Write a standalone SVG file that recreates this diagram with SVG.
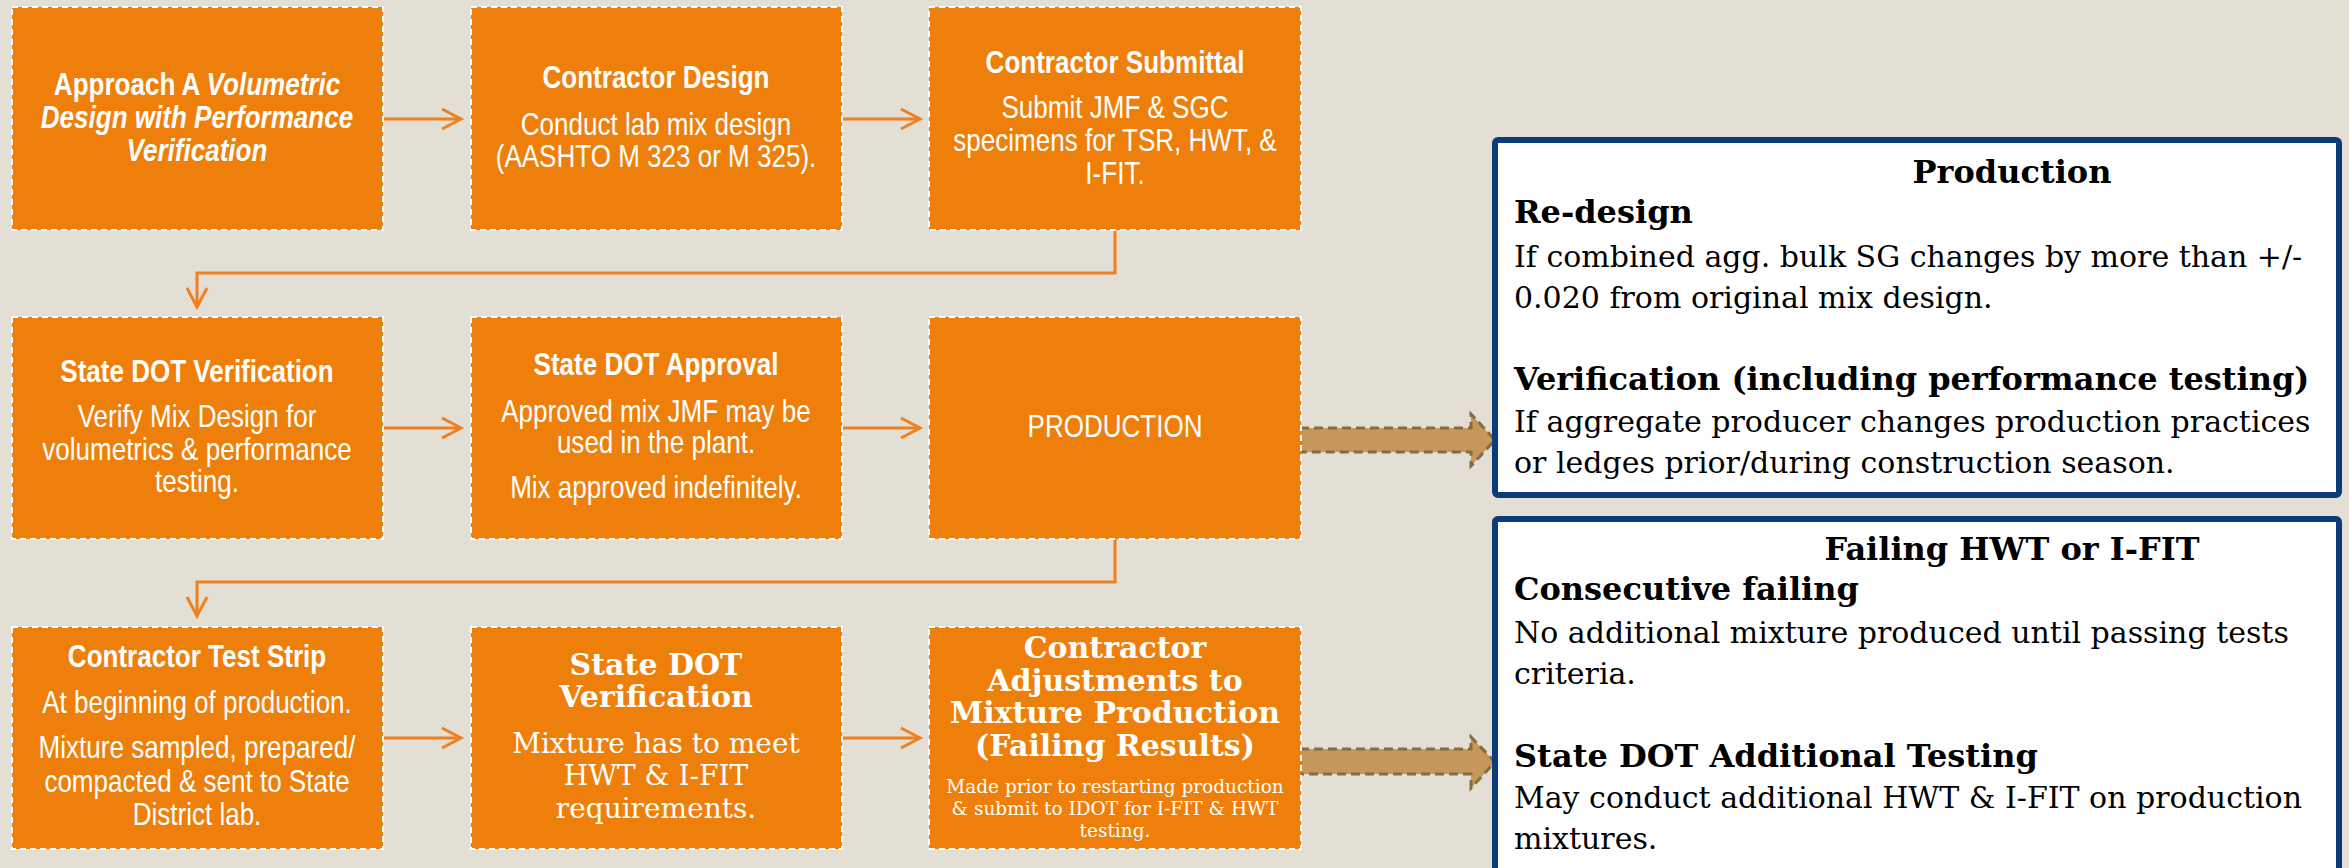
<svg xmlns="http://www.w3.org/2000/svg" width="2349" height="868" viewBox="0 0 2349 868">
<defs>
<style>
.box{fill:#EF7F0B;stroke:#FFFFFF;stroke-width:2;stroke-dasharray:6 4}
.sans{font-family:'Liberation Sans',Arial,sans-serif;font-size:31px;fill:#FFFFFF;text-anchor:middle}
.b{font-weight:bold}
.i{font-style:italic}
.ser{font-family:'DejaVu Serif','Liberation Serif',serif;fill:#FFFFFF;text-anchor:middle}
.sh{font-size:30px;font-weight:bold}
.sb{font-size:28px}
.ss{font-size:18.5px}
.conn{fill:none;stroke:#EE8020;stroke-width:3}
.blk{fill:#C4975A;stroke:#8A6B3E;stroke-width:3;stroke-dasharray:9 5}
.panel{fill:#FFFFFF;stroke:#0C3B7A;stroke-width:6}
.pt{font-family:'DejaVu Serif','Liberation Serif',serif;font-size:30px;fill:#000000}
.ph{font-weight:bold;font-size:32px}
</style>
<marker id="ch" markerUnits="userSpaceOnUse" viewBox="-24 -14 28 28" markerWidth="28" markerHeight="28" refX="0" refY="0" orient="auto">
<path d="M-19,-10 L0,0 L-19,10" fill="none" stroke="#EE8020" stroke-width="3"/>
</marker>
</defs>
<rect x="0" y="0" width="2349" height="868" fill="#E4DFD4"/>

<g id="connectors">
<path class="conn" d="M383,119 H461" marker-end="url(#ch)"/>
<path class="conn" d="M842,119 H920" marker-end="url(#ch)"/>
<path class="conn" d="M1115,230 V273 H197 V307" marker-end="url(#ch)"/>
<path class="conn" d="M383,428 H461" marker-end="url(#ch)"/>
<path class="conn" d="M842,428 H920" marker-end="url(#ch)"/>
<path class="conn" d="M1115,539 V582 H197 V616" marker-end="url(#ch)"/>
<path class="conn" d="M383,738 H461" marker-end="url(#ch)"/>
<path class="conn" d="M842,738 H920" marker-end="url(#ch)"/>
<path class="blk" d="M1300,428 H1471 V414 L1495,440 L1471,466 V452 H1300 Z"/>
<path class="blk" d="M1300,749 H1471 V737 L1495,762 L1471,788 V774 H1300 Z"/>
</g>

<g id="n1">
<rect class="box" x="12" y="7" width="371" height="223"/>
<g transform="translate(197 0) scale(0.84 1)">
<text class="sans b" x="0" y="95">Approach A <tspan class="i">Volumetric</tspan></text>
<text class="sans b i" x="0" y="128">Design with Performance</text>
<text class="sans b i" x="0" y="161">Verification</text>
</g>
</g>
<g id="n2">
<rect class="box" x="471" y="7" width="371" height="223"/>
<g transform="translate(656 0) scale(0.84 1)">
<text class="sans b" x="0" y="88">Contractor Design</text>
<text class="sans" x="0" y="135">Conduct lab mix design</text>
<text class="sans" x="0" y="167">(AASHTO M 323 or M 325).</text>
</g>
</g>
<g id="n3">
<rect class="box" x="929" y="7" width="372" height="223"/>
<g transform="translate(1115 0) scale(0.84 1)">
<text class="sans b" x="0" y="73">Contractor Submittal</text>
<text class="sans" x="0" y="118">Submit JMF &amp; SGC</text>
<text class="sans" x="0" y="151">specimens for TSR, HWT, &amp;</text>
<text class="sans" x="0" y="184">I-FIT.</text>
</g>
</g>
<g id="n4">
<rect class="box" x="12" y="317" width="371" height="222"/>
<g transform="translate(197 0) scale(0.84 1)">
<text class="sans b" x="0" y="382">State DOT Verification</text>
<text class="sans" x="0" y="427">Verify Mix Design for</text>
<text class="sans" x="0" y="460">volumetrics &amp; performance</text>
<text class="sans" x="0" y="492">testing.</text>
</g>
</g>
<g id="n5">
<rect class="box" x="471" y="317" width="371" height="222"/>
<g transform="translate(656 0) scale(0.84 1)">
<text class="sans b" x="0" y="375">State DOT Approval</text>
<text class="sans" x="0" y="422">Approved mix JMF may be</text>
<text class="sans" x="0" y="453">used in the plant.</text>
<text class="sans" x="0" y="498">Mix approved indefinitely.</text>
</g>
</g>
<g id="n6">
<rect class="box" x="929" y="317" width="372" height="222"/>
<g transform="translate(1115 0) scale(0.84 1)">
<text class="sans" x="0" y="437">PRODUCTION</text>
</g>
</g>
<g id="n7">
<rect class="box" x="12" y="627" width="371" height="222"/>
<g transform="translate(197 0) scale(0.84 1)">
<text class="sans b" x="0" y="667">Contractor Test Strip</text>
<text class="sans" x="0" y="713">At beginning of production.</text>
<text class="sans" x="0" y="758">Mixture sampled, prepared/</text>
<text class="sans" x="0" y="792">compacted &amp; sent to State</text>
<text class="sans" x="0" y="825">District lab.</text>
</g>
</g>
<g id="n8">
<rect class="box" x="471" y="627" width="371" height="222"/>
<text class="ser sh" x="656" y="675">State DOT</text>
<text class="ser sh" x="656" y="707">Verification</text>
<text class="ser sb" x="656" y="753">Mixture has to meet</text>
<text class="ser sb" x="656" y="785">HWT &amp; I-FIT</text>
<text class="ser sb" x="656" y="818">requirements.</text>
</g>
<g id="n9">
<rect class="box" x="929" y="627" width="372" height="222"/>
<text class="ser sh" x="1115" y="658">Contractor</text>
<text class="ser sh" x="1115" y="691">Adjustments to</text>
<text class="ser sh" x="1115" y="723">Mixture Production</text>
<text class="ser sh" x="1115" y="756">(Failing Results)</text>
<text class="ser ss" x="1115" y="793">Made prior to restarting production</text>
<text class="ser ss" x="1115" y="815">&amp; submit to IDOT for I-FIT &amp; HWT</text>
<text class="ser ss" x="1115" y="837">testing.</text>
</g>
<g id="p1">
<rect class="panel" x="1495" y="140" width="844" height="355" rx="3"/>
<text class="pt ph" x="2012" y="183" text-anchor="middle">Production</text>
<text class="pt ph" x="1514" y="223">Re-design</text>
<text class="pt" x="1514" y="267">If combined agg. bulk SG changes by more than +/-</text>
<text class="pt" x="1514" y="308">0.020 from original mix design.</text>
<text class="pt ph" x="1514" y="390">Verification (including performance testing)</text>
<text class="pt" x="1514" y="432">If aggregate producer changes production practices</text>
<text class="pt" x="1514" y="473">or ledges prior/during construction season.</text>
</g>
<g id="p2">
<rect class="panel" x="1495" y="519" width="844" height="380" rx="3"/>
<text class="pt ph" x="2012" y="560" text-anchor="middle">Failing HWT or I-FIT</text>
<text class="pt ph" x="1514" y="600">Consecutive failing</text>
<text class="pt" x="1514" y="643">No additional mixture produced until passing tests</text>
<text class="pt" x="1514" y="684">criteria.</text>
<text class="pt ph" x="1514" y="767">State DOT Additional Testing</text>
<text class="pt" x="1514" y="808">May conduct additional HWT &amp; I-FIT on production</text>
<text class="pt" x="1514" y="849">mixtures.</text>
</g>
</svg>
